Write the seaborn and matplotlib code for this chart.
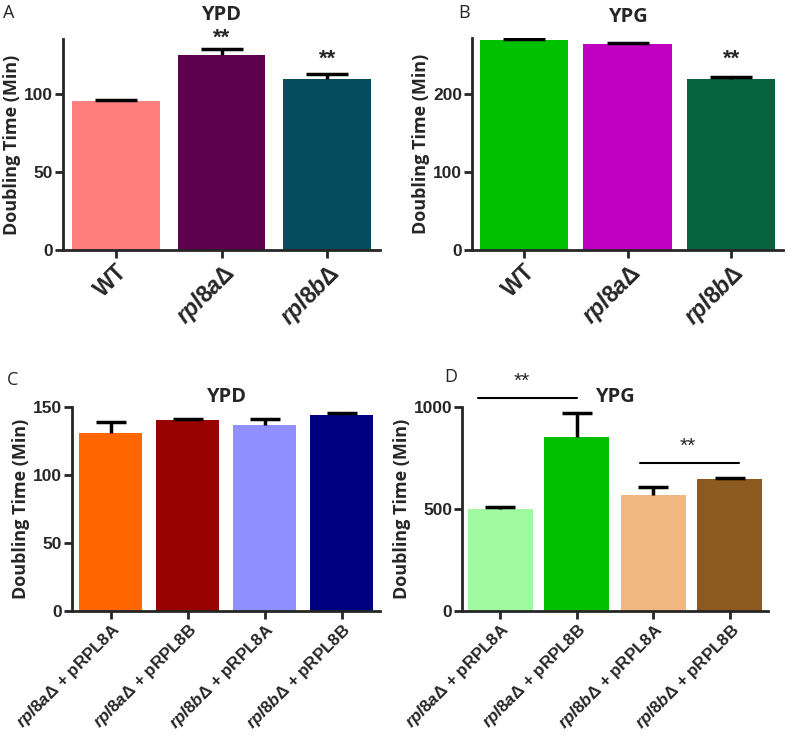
import matplotlib
matplotlib.use("Agg")
import matplotlib.pyplot as plt
import seaborn as sns

sns.set_style("ticks")
plt.rcParams["font.family"] = ["Liberation Sans", "DejaVu Sans"]
plt.rcParams["mathtext.fontset"] = "custom"
plt.rcParams["mathtext.it"] = "Liberation Sans:italic:bold"
plt.rcParams["mathtext.rm"] = "Liberation Sans:bold"
plt.rcParams["mathtext.bf"] = "Liberation Sans:bold"

# -----------------------------
# data
# -----------------------------
strains = ["WT", r"$\mathit{rpl8a\Delta}$", r"$\mathit{rpl8b\Delta}$"]
ypd_mean = [95.5, 125, 109.5]
ypd_err = [0.6, 4, 3.3]
ypg_mean = [269, 263.7, 218.8]
ypg_err = [0.6, 0.6, 2.2]

rescue = [r"$\mathit{rpl8a\Delta}$ + pRPL8A", r"$\mathit{rpl8a\Delta}$ + pRPL8B",
          r"$\mathit{rpl8b\Delta}$ + pRPL8A", r"$\mathit{rpl8b\Delta}$ + pRPL8B"]
res_ypd_mean = [131, 140.5, 137, 144]
res_ypd_err = [8, 0.6, 4.5, 1.5]
res_ypg_mean = [500, 853, 569, 647]
res_ypg_err = [12, 117, 40, 5]

col_a = ["#FF7F7F", "#5E004D", "#064B5E"]
col_b = ["#00C000", "#C000C0", "#07643F"]
col_c = ["#FF6600", "#990000", "#8F8FFF", "#000080"]
col_d = ["#A0F8A0", "#00C000", "#F0B880", "#8C5A1E"]

label_font = ["Open Sans", "DejaVu Sans"]

fig = plt.figure(figsize=(8, 7.38), dpi=100)


def panel(rect, cats, means, errs, colors, ylim, yticks, title, width, capsize,
          labsize, tpad):
    ax = fig.add_axes(rect)
    sns.barplot(x=cats, y=means, hue=cats, palette=colors, legend=False,
                width=width, saturation=1, ax=ax, linewidth=0)
    _, caps, _ = ax.errorbar(range(len(cats)), means, yerr=[[0] * len(errs), errs],
                             fmt="none", ecolor="black", elinewidth=2.5,
                             capsize=capsize, capthick=2.5)
    caps[0].set_visible(False)  # only the upper cap, like the original
    ax.set_xlim(-0.5, len(cats) - 0.5)
    ax.set_ylim(*ylim)
    ax.set_yticks(yticks)
    ax.set_yticklabels([str(t) for t in yticks], fontsize=12.5, fontweight="bold")
    ax.set_xticks(range(len(cats)))
    ax.set_xticklabels(cats, rotation=45, ha="right", rotation_mode="anchor",
                       fontsize=labsize, fontweight="bold")
    ax.set_ylabel("Doubling Time (Min)", fontsize=13, fontweight="bold",
                  family=label_font, labelpad=2)
    ax.set_title(title, fontsize=14.5, fontweight="bold", family=label_font, pad=tpad)
    for s in ["top", "right"]:
        ax.spines[s].set_visible(False)
    for s in ["left", "bottom"]:
        ax.spines[s].set_linewidth(2)
    ax.tick_params(axis="both", direction="out", length=6, width=2, pad=1)
    return ax


ax_a = panel([0.07875, 0.6612, 0.39625, 0.2855], strains, ypd_mean, ypd_err, col_a,
             (0, 135), [0, 50, 100], "YPD", 0.83, 15, 16.5, 14)
ax_b = panel([0.59, 0.6612, 0.38875, 0.2870], strains, ypg_mean, ypg_err, col_b,
             (0, 271), [0, 100, 200], "YPG", 0.85, 15, 16.5, 12)
ax_c = panel([0.09, 0.1721, 0.385, 0.2764], rescue, res_ypd_mean, res_ypd_err, col_c,
             (0, 150), [0, 50, 100, 150], "YPD", 0.82, 11, 12.2, 2)
ax_d = panel([0.5775, 0.1721, 0.3825, 0.2764], rescue, res_ypg_mean, res_ypg_err, col_d,
             (0, 1000), [0, 500, 1000], "YPG", 0.85, 11, 12.2, 2)

# significance marks
ax_a.text(1, 135.5, "**", ha="center", va="center", fontsize=16, fontweight="bold",
          clip_on=False)
ax_a.text(2, 122, "**", ha="center", va="center", fontsize=16, fontweight="bold")
ax_b.text(2, 244, "**", ha="center", va="center", fontsize=16, fontweight="bold")

ax_d.plot([-0.29, 1.0], [1044, 1044], color="black", lw=1.5, clip_on=False)
ax_d.text(0.28, 1125, "**", ha="center", va="center", fontsize=15, clip_on=False)
ax_d.plot([1.83, 3.12], [725, 725], color="black", lw=1.5)
ax_d.text(2.45, 805, "**", ha="center", va="center", fontsize=15)

# panel letters
fig.text(0.004, 0.995, "A", fontsize=13, va="top", family=label_font)
fig.text(0.573, 0.995, "B", fontsize=13, va="top", family=label_font)
fig.text(0.008, 0.497, "C", fontsize=13, va="top", family=label_font)
fig.text(0.555, 0.502, "D", fontsize=13, va="top", family=label_font)

fig.savefig("out.png", dpi=100)
